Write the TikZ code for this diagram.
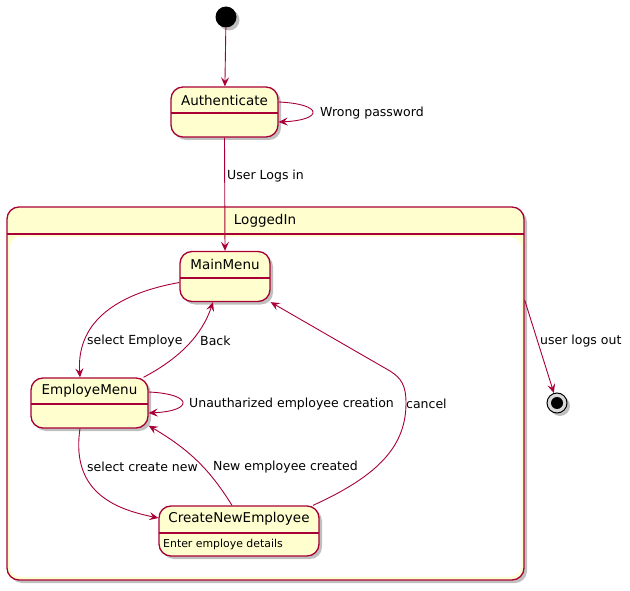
\documentclass[tikz,border=0pt]{standalone}
\usepackage{fontspec}
\setmainfont{DejaVu Sans}
\usetikzlibrary{shadows,arrows.meta}
\definecolor{umlred}{HTML}{A80036}
\definecolor{umlyellow}{HTML}{FEFECE}
\tikzset{
  x=1pt,y=1pt,
  shad/.style={drop shadow={shadow xshift=3pt,shadow yshift=-3pt,fill=black,opacity=0.25}},
  statebox/.style={draw=umlred, fill=umlyellow, rounded corners=12pt, line width=1.3pt, shad, inner sep=0pt},
  hline/.style={draw=umlred, line width=1.3pt},
  title/.style={font=\fontsize{13.5}{16}\selectfont, inner sep=0pt},
  lbl/.style={font=\fontsize{12.5}{15}\selectfont, inner sep=0pt, anchor=west},
  small/.style={font=\fontsize{10.9}{13}\selectfont, inner sep=0pt, anchor=west},
  edge/.style={draw=umlred, line width=0.9pt, -{Stealth[length=9pt,width=8pt,inset=3.5pt]}},
}
\begin{document}
\begin{tikzpicture}
\path[use as bounding box] (0,0) rectangle (630,-591);
% start
\node[circle, fill=black, minimum size=21pt, inner sep=0pt, shad] (start) at (226,-17) {};
% Authenticate
\node[statebox, minimum width=107pt, minimum height=50pt] (auth) at (224.5,-112) {};
\draw[hline] (171,-113) -- (278,-113);
\node[title] (authT) at (224.5,-100) {Authenticate};
% LoggedIn composite
\node[statebox, minimum width=517pt, minimum height=373pt] (logged) at (265.5,-393.5) {};
\fill[white, rounded corners=10pt] (10,-237) rectangle (521,-577);
\draw[hline] (7,-234) -- (524,-234);
\node[title] (loggedT) at (265,-221) {LoggedIn};
% MainMenu
\node[statebox, minimum width=90pt, minimum height=50pt] (main) at (225,-276.5) {};
\draw[hline] (180,-278) -- (270,-278);
\node[title] (mainT) at (225,-264) {MainMenu};
% EmployeMenu
\node[statebox, minimum width=117pt, minimum height=50pt] (emp) at (89.5,-403) {};
\draw[hline] (31,-404) -- (148,-404);
\node[title] (empT) at (89.5,-391) {EmployeMenu};
% CreateNewEmployee
\node[statebox, minimum width=160pt, minimum height=50pt] (create) at (239,-531) {};
\draw[hline] (159,-533) -- (319,-533);
\node[title] (createT) at (239,-519) {CreateNewEmployee};
\node[small] (createD) at (163,-544) {Enter employe details};
% final
\node[circle, draw=black, fill=white!85!black, line width=1pt, minimum size=20pt, inner sep=0pt, shad] (final) at (557,-403) {};
\fill[black] (final.center) circle (6pt);

% edges
\draw[edge] (start) -- (auth);
\draw[edge] ([yshift=10]auth.east) .. controls +(45,-2) and +(45,2) .. ([yshift=-10]auth.east);
\draw[edge] (auth.south) -- (main.north);
\draw[edge] ([yshift=93.5]logged.east) -- (final);
\draw[edge] ([yshift=-6]main.west) .. controls (120,-293) and (76,-320) .. ([xshift=-9.5]emp.north);
\draw[edge] ([xshift=54]emp.north) .. controls (180,-358) and (202,-335) .. ([xshift=-12]main.south);
\draw[edge] ([yshift=11]emp.east) .. controls +(45,-2) and +(45,2) .. ([yshift=-10]emp.east);
\draw[edge] ([xshift=-9.5]emp.south) .. controls (70,-495) and (120,-510) .. ([yshift=13]create.west);
\draw[edge] ([xshift=-7]create.north) .. controls (210,-470) and (190,-450) .. ([yshift=3]emp.south east);
\draw[edge] ([xshift=74]create.north) .. controls (380,-475) and (406,-445) .. (406,-403) .. controls (406,-385) and (401,-378) .. (390,-371) -- (main.south east);

% labels
\node[lbl] (l1) at (320,-113) {Wrong password};
\node[lbl] (l2) at (227,-176) {User Logs in};
\node[lbl] (l3) at (87,-341) {select Employe};
\node[lbl] (l4) at (200,-341) {Back};
\node[lbl] (l5) at (189,-404) {Unautharized employee creation};
\node[lbl] (l6) at (406,-404) {cancel};
\node[lbl] (l7) at (87,-467) {select create new};
\node[lbl] (l8) at (213,-467) {New employee created};
\node[lbl] (l9) at (540,-341) {user logs out};
\end{tikzpicture}
\end{document}
